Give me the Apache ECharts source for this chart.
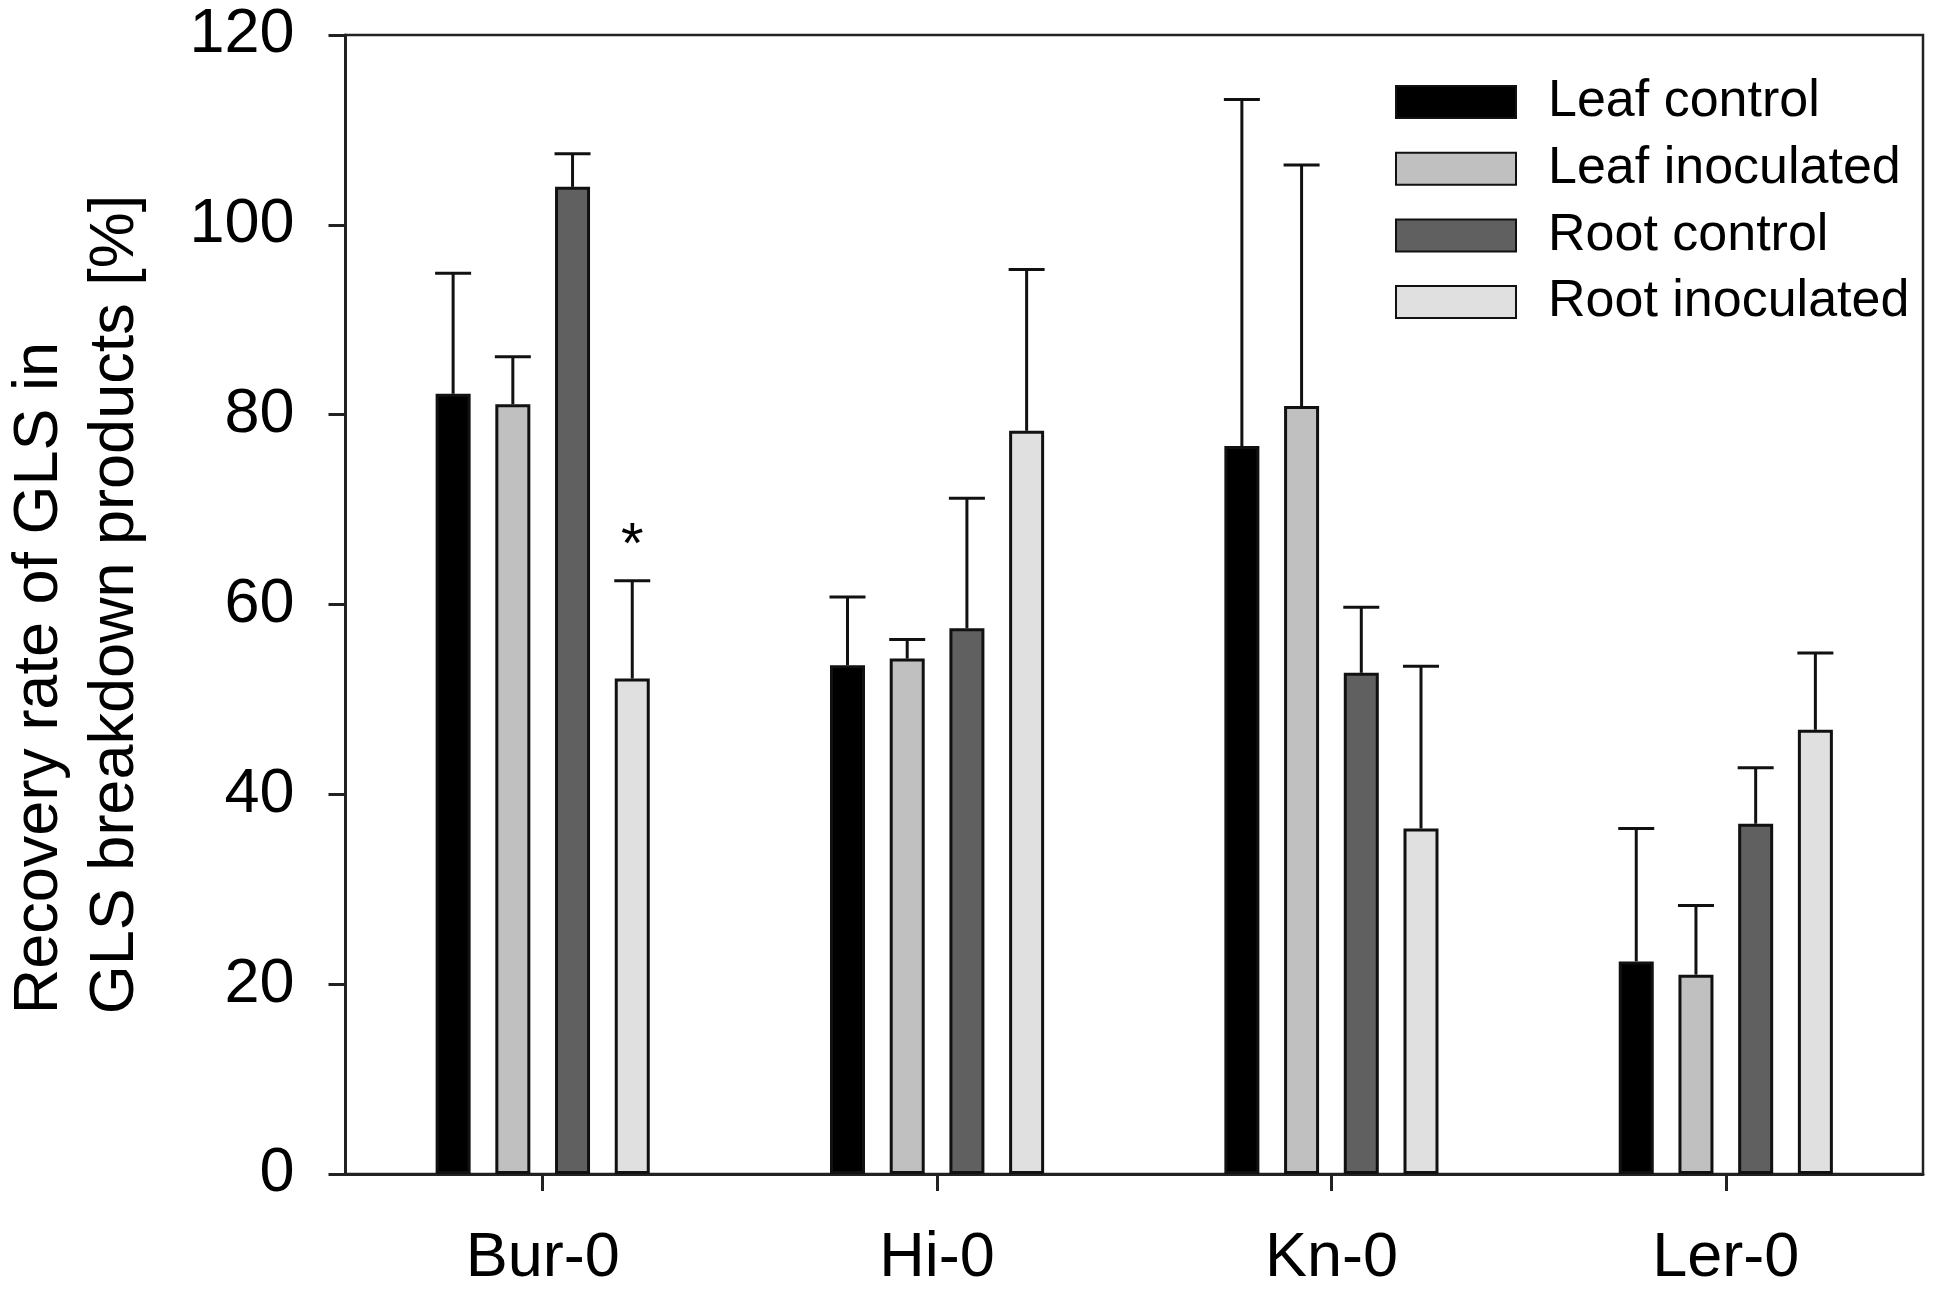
<!DOCTYPE html>
<html>
<head>
<meta charset="utf-8">
<script src="https://cdn.jsdelivr.net/npm/echarts@6.0.0/dist/echarts.min.js"></script>
<style>
  html, body { margin: 0; padding: 0; background: #ffffff; }
  #chart { width: 1940px; height: 1294px; }
</style>
</head>
<body>
<div id="chart"></div>
<script>
// ---- data ----
const categories = ['Bur-0', 'Hi-0', 'Kn-0', 'Ler-0'];
const seriesNames = ['Leaf control', 'Leaf inoculated', 'Root control', 'Root inoculated'];
const leafControl = [82.2, 53.6, 76.7, 22.4];
const leafControlErr = [12.7, 7.2, 36.5, 14.0];
const leafInoculated = [81.1, 54.3, 80.9, 21.0];
const leafInoculatedErr = [5.0, 2.0, 25.4, 7.3];
const rootControl = [104.0, 57.5, 52.8, 36.9];
const rootControlErr = [3.5, 13.7, 6.9, 5.9];
const rootInoculated = [52.2, 78.3, 36.4, 46.8];
const rootInoculatedErr = [10.3, 17.0, 17.1, 8.1];
const yTicks = [0, 20, 40, 60, 80, 100, 120];
// significance marks: [categoryIndex, seriesIndex, text]
const marks = [[0, 3, '*']];

// ---- style ----
const FONT = "'Liberation Sans', Arial, Helvetica, sans-serif";
const colors = ['#000000', '#c0c0c0', '#606060', '#e0e0e0'];
const BAR_W = 35;
const BAR_GAP = 0.706;
const PITCH = BAR_W * (1 + BAR_GAP);

const values = [leafControl, leafInoculated, rootControl, rootInoculated];
const errs = [leafControlErr, leafInoculatedErr, rootControlErr, rootInoculatedErr];

const errData = [];
for (let s = 0; s < values.length; s++) {
  for (let c = 0; c < categories.length; c++) {
    const m = marks.find(k => k[0] === c && k[1] === s);
    errData.push([c, s, values[s][c], errs[s][c], m ? m[2] : '']);
  }
}

const barSeries = seriesNames.map((name, i) => ({
  name: name,
  type: 'bar',
  data: values[i],
  barWidth: BAR_W,
  barGap: (BAR_GAP * 100) + '%',
  itemStyle: { color: colors[i], borderColor: '#111111', borderWidth: 3 },
  emphasis: { disabled: true },
  z: 2
}));

const errSeries = {
  type: 'custom',
  data: errData,
  encode: { x: 0, y: 2 },
  z: 3,
  silent: true,
  renderItem: function (params, api) {
    const c = api.value(0);
    const s = api.value(1);
    const v = api.value(2);
    const e = api.value(3);
    const base = api.coord([c, v]);
    const top = api.coord([c, v + e]);
    const x = base[0] + (s - 1.5) * PITCH;
    const half = 18;
    const children = [
      { type: 'line', shape: { x1: x, y1: base[1], x2: x, y2: top[1] },
        style: { stroke: '#111111', lineWidth: 3 } },
      { type: 'line', shape: { x1: x - half, y1: top[1], x2: x + half, y2: top[1] },
        style: { stroke: '#111111', lineWidth: 3 } }
    ];
    const txt = errData[params.dataIndex][4];
    if (txt) {
      children.push({ type: 'text', style: {
        text: txt, x: x, y: top[1] - 34, align: 'center', verticalAlign: 'middle',
        fontSize: 58, fontFamily: FONT, fill: '#000000' } });
    }
    return { type: 'group', children: children };
  }
};

const chart = echarts.init(document.getElementById('chart'), null, { renderer: 'canvas' });
chart.setOption({
  animation: false,
  backgroundColor: '#ffffff',
  grid: {
    left: 344, right: 17, top: 35, bottom: 120,
    show: true, borderColor: '#222222', borderWidth: 2.5, backgroundColor: 'transparent'
  },
  legend: {
    data: seriesNames,
    orient: 'vertical',
    left: 1395,
    top: 76,
    padding: 0,
    itemWidth: 120,
    itemHeight: 32,
    itemGap: 14.7,
    icon: 'rect',
    selectedMode: false,
    textStyle: { fontSize: 52, fontFamily: FONT, color: '#000000', padding: [0, 0, 0, 27] }
  },
  xAxis: {
    type: 'category',
    data: categories,
    axisLine: { show: true, lineStyle: { color: '#222222', width: 3 } },
    axisTick: { show: true, alignWithLabel: true, length: 17, inside: false,
      lineStyle: { color: '#222222', width: 3 } },
    axisLabel: { fontSize: 63, fontFamily: FONT, color: '#000000', margin: 53 },
    splitLine: { show: false }
  },
  yAxis: {
    type: 'value',
    min: 0, max: 120, interval: 20,
    name: '{a|Recovery rate of GLS in}\n{a|GLS breakdown products [%]}',
    nameLocation: 'middle',
    nameRotate: 90,
    nameGap: 192,
    nameTextStyle: {
      rich: { a: { fontSize: 63, fontFamily: FONT, color: '#000000', align: 'left', lineHeight: 76 } }
    },
    axisLine: { show: true, lineStyle: { color: '#222222', width: 3 } },
    axisTick: { show: true, length: 17, inside: false, lineStyle: { color: '#222222', width: 3 } },
    axisLabel: { fontSize: 63, fontFamily: FONT, color: '#000000', margin: 51,
      customValues: yTicks },
    splitLine: { show: false }
  },
  series: barSeries.concat([errSeries])
});
</script>
</body>
</html>
